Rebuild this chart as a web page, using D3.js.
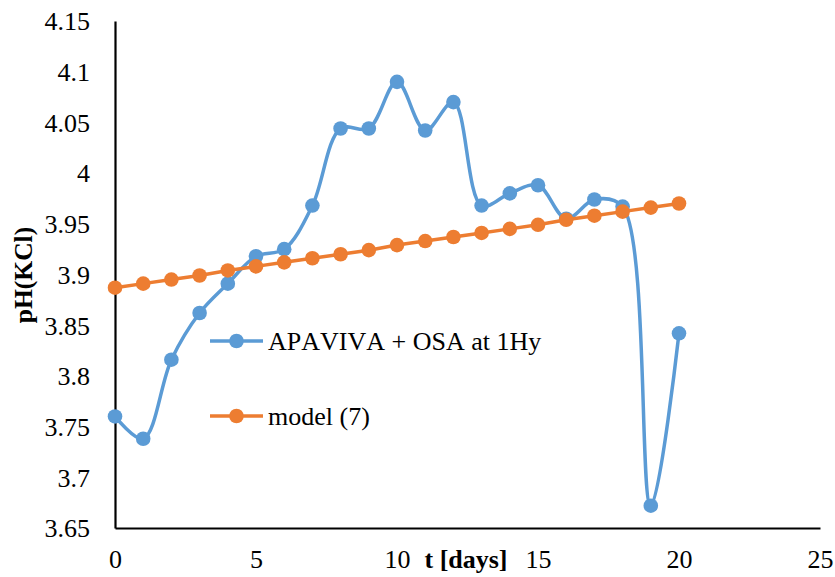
<!DOCTYPE html>
<html>
<head>
<meta charset="utf-8">
<script src="https://cdn.jsdelivr.net/npm/d3@7"></script>
<style>
  html, body { margin: 0; padding: 0; background: #fff; }
  svg { display: block; }
  svg text { font-family: "Liberation Serif", "Times New Roman", serif; fill: #000; font-kerning: none; }
</style>
</head>
<body>
<svg id="chart" width="835" height="577"></svg>
<script>
// Sampling days
const days = [0, 1, 2, 3, 4, 5, 6, 7, 8, 9, 10, 11, 12, 13, 14, 15, 16, 17, 18, 19, 20];

// Measured pH(KCl)
const measured = [3.760, 3.738, 3.816, 3.862, 3.891, 3.918, 3.925, 3.968, 4.044, 4.044, 4.090,
                  4.042, 4.070, 3.968, 3.980, 3.988, 3.955, 3.974, 3.967, 3.672, 3.842];

// Model (7) prediction
const model = [3.887, 3.891, 3.895, 3.899, 3.904, 3.908, 3.912, 3.916, 3.920, 3.924, 3.929,
               3.933, 3.937, 3.941, 3.945, 3.949, 3.954, 3.958, 3.962, 3.966, 3.970];

const seriesNames = ["APAVIVA + OSA at 1Hy", "model (7)"];
const xTicks = [0, 5, 10, 15, 20, 25];
const yTicks = [3.65, 3.7, 3.75, 3.8, 3.85, 3.9, 3.95, 4, 4.05, 4.1, 4.15];

const colors = ["#5B9BD5", "#ED7D31"];

const svg = d3.select("#chart");
const plot = { left: 115, right: 820, top: 21, bottom: 528 };

const x = d3.scaleLinear().domain([0, 25]).range([plot.left, plot.right]);
const y = d3.scaleLinear().domain([3.65, 4.15]).range([plot.bottom, plot.top]);

const fmt = v => String(+v.toFixed(2));

// Axes without tick marks
const xAxis = svg.append("g")
  .attr("transform", `translate(0,${plot.bottom})`)
  .call(d3.axisBottom(x).tickValues(xTicks).tickFormat(fmt).tickSize(0).tickPadding(27));
const yAxis = svg.append("g")
  .attr("transform", `translate(${plot.left},0)`)
  .call(d3.axisLeft(y).tickValues(yTicks).tickFormat(fmt).tickSize(0).tickPadding(25));

[xAxis, yAxis].forEach(g => {
  g.attr("font-family", null).attr("font-size", null);
  g.select(".domain").attr("stroke", "#000").attr("stroke-width", 2.2);
  g.selectAll("text").style("font-size", "26px");
});
xAxis.selectAll("text").attr("dy", 0).attr("y", 40);
yAxis.selectAll("text").attr("dy", "0.34em");

// Axis titles
svg.append("text")
  .attr("x", 466).attr("y", 568)
  .attr("text-anchor", "middle")
  .style("font-size", "26px").style("font-weight", "bold")
  .text("t [days]");

svg.append("text")
  .attr("transform", "translate(32,275) rotate(-90)")
  .attr("text-anchor", "middle")
  .style("font-size", "25.5px").style("font-weight", "bold")
  .text("pH(KCl)");

// Series
const measuredPts = days.map((d, i) => ({ x: d, y: measured[i] }));
const modelPts = days.map((d, i) => ({ x: d, y: model[i] }));

const smooth = d3.line().x(d => x(d.x)).y(d => y(d.y)).curve(d3.curveCatmullRom.alpha(0.5));
const straight = d3.line().x(d => x(d.x)).y(d => y(d.y));

function drawSeries(pts, gen, color) {
  const g = svg.append("g");
  g.append("path").datum(pts)
    .attr("d", gen)
    .attr("fill", "none")
    .attr("stroke", color)
    .attr("stroke-width", 3.5)
    .attr("stroke-linejoin", "round");
  g.selectAll("circle").data(pts).enter().append("circle")
    .attr("cx", d => x(d.x)).attr("cy", d => y(d.y))
    .attr("r", 7.3).attr("fill", color);
}

drawSeries(measuredPts, smooth, colors[0]);
drawSeries(modelPts, straight, colors[1]);

// Legend
const legendRows = [341, 416];
seriesNames.forEach((name, i) => {
  const g = svg.append("g").attr("transform", `translate(210,${legendRows[i]})`);
  g.append("line").attr("x1", 0).attr("x2", 53).attr("y1", 0).attr("y2", 0)
    .attr("stroke", colors[i]).attr("stroke-width", 3.5);
  g.append("circle").attr("cx", 26.5).attr("cy", 0).attr("r", 7.3).attr("fill", colors[i]);
  g.append("text").attr("x", 58).attr("y", 0).attr("dy", "0.34em")
    .style("font-size", "26px").text(name);
});
</script>
</body>
</html>
